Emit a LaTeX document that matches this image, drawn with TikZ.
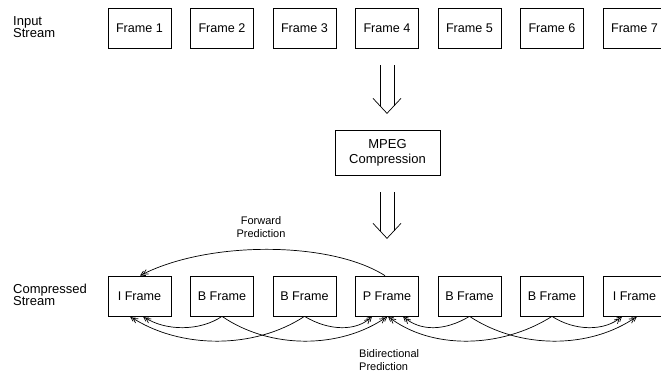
\documentclass[tikz,border=0pt]{standalone}
\usepackage{fontspec}
\setmainfont{Liberation Sans}
\usetikzlibrary{arrows.meta,calc}
\begin{document}
\begin{tikzpicture}[x=1pt,y=-1pt,
  frame/.style={draw,line width=0.7pt,minimum width=63pt,minimum height=40pt,inner sep=0pt,
    font=\fontsize{12.6}{14}\selectfont},
  side/.style={anchor=west,align=left,inner sep=0pt,font=\fontsize{13}{12}\selectfont},
  small/.style={inner sep=0pt,font=\fontsize{11}{12.5}\selectfont},
  tip/.style={-{Straight Barb[length=4.5pt,width=5pt,sep=-2.5pt]Straight Barb[length=4.5pt,width=5pt]}},
  conn/.style={line width=0.7pt,tip},
  fat/.style={line width=0.7pt}]
\useasboundingbox (0,0) rectangle (661,372);
\clip (0,0) rectangle (661,372);
\fill[white] (0,0) rectangle (661,372);
% input stream
\node[side] (instr) at (13,27) {Input\\Stream};
\foreach \i/\x in {1/139.5,2/222,3/304.5,4/387,5/469.5,6/552,7/634.5}
  \node[frame] (f\i) at (\x,28) {Frame \i};
% MPEG box
\node[frame,minimum width=105pt,minimum height=45pt,align=center,
  font=\fontsize{13}{15}\selectfont] (mpeg) at (387.5,152.5) {MPEG\\Compression};
% compressed stream
\node[side] (cstr) at (13,295) {Compressed\\Stream};
\node[frame] (c1) at (139.5,296) {I Frame};
\node[frame] (c2) at (222,296) {B Frame};
\node[frame] (c3) at (304.5,296) {B Frame};
\node[frame] (c4) at (387,296) {P Frame};
\node[frame] (c5) at (469.5,296) {B Frame};
\node[frame] (c6) at (552,296) {B Frame};
\node[frame] (c7) at (634.5,296) {I Frame};
% hollow down arrows
\draw[fat] ($(f4.south)+(-7,17)$) -- ($(f4.south)+(-7,57.5)$);
\draw[fat] ($(f4.south)+(7,17)$) -- ($(f4.south)+(7,57.5)$);
\draw[fat,line join=miter] ($(f4.south)+(-14,50)$) -- ($(f4.south)+(0,65)$) -- ($(f4.south)+(14,50)$);
\draw[fat] ($(mpeg.south)+(-7.5,17)$) -- ($(mpeg.south)+(-7.5,55.5)$);
\draw[fat] ($(mpeg.south)+(6.5,17)$) -- ($(mpeg.south)+(6.5,55.5)$);
\draw[fat,line join=miter] ($(mpeg.south)+(-14.5,48)$) -- ($(mpeg.south)+(-0.5,63)$) -- ($(mpeg.south)+(13.5,48)$);
% forward prediction
\draw[conn] ([xshift=-2pt]c4.north) .. controls +(-55,-35) and +(67,-35) .. ([xshift=0.5pt]c1.north);
\node[small,align=center] (fwd) at (261,227) {Forward\\Prediction};
% bidirectional prediction
\draw[conn] (c2.south) .. controls +(-22,15) and +(22,15) .. ([xshift=3.5pt]c1.south);
\draw[conn] (c2.south) .. controls +(48,33) and +(-47,33) .. ([xshift=0.5pt]c4.south);
\draw[conn] (c3.south) .. controls +(-50,33) and +(50,33) .. ([xshift=-9.5pt]c1.south);
\draw[conn] (c3.south) .. controls +(25,15) and +(-15,15) .. ([xshift=-15pt]c4.south);
\draw[conn] (c5.south) .. controls +(-25,15) and +(17,15) .. ([xshift=16pt]c4.south);
\draw[conn] (c5.south) .. controls +(50,33) and +(-47,33) .. ([xshift=2.5pt]c7.south);
\draw[conn] (c6.south) .. controls +(-52,33) and +(42,33) .. ([xshift=1pt]c4.south);
\draw[conn] (c6.south) .. controls +(23,15) and +(-17,15) .. ([xshift=-12.5pt]c7.south);
\node[small,anchor=west,align=left] (bid) at (359,360) {Bidirectional\\Prediction};
\end{tikzpicture}
\end{document}
